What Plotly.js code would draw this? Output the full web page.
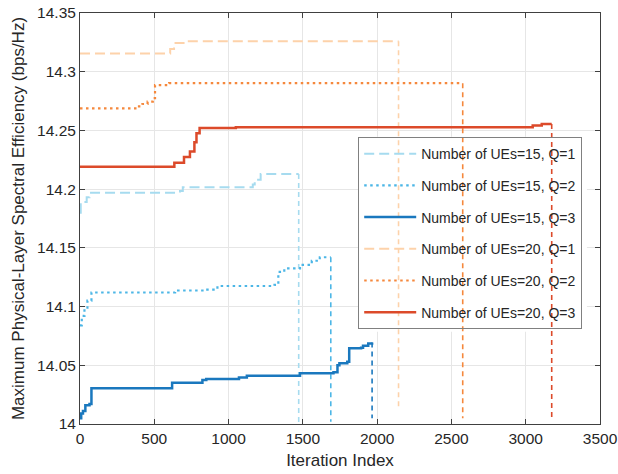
<!DOCTYPE html>
<html>
<head>
<meta charset="utf-8">
<script src="https://cdn.plot.ly/plotly-3.0.1.min.js"></script>
<style>html,body{margin:0;padding:0;background:#fff;}#chart{width:618px;height:474px;}</style>
</head>
<body>
<div id="chart"></div>
<script>
// Series names
const seriesNames = [
  "Number of UEs=15, Q=1",
  "Number of UEs=15, Q=2",
  "Number of UEs=15, Q=3",
  "Number of UEs=20, Q=1",
  "Number of UEs=20, Q=2",
  "Number of UEs=20, Q=3"
];

// UEs=15, Q=1
const ue15q1X = [0, 5, 45, 64, 673, 692, 1163, 1176, 1216, 1472];
const ue15q1Y = [14.180, 14.189, 14.193, 14.197, 14.1985, 14.2017, 14.204, 14.208, 14.213, 14.213];
// UEs=15, Q=2
const ue15q2X = [0, 12, 30, 50, 77, 640, 660, 845, 925, 1309, 1335, 1375, 1481, 1560, 1614, 1688];
const ue15q2Y = [14.084, 14.092, 14.099, 14.105, 14.112, 14.1125, 14.1137, 14.1145, 14.1175, 14.1185, 14.1295, 14.1325, 14.1355, 14.139, 14.142, 14.142];
// UEs=15, Q=3
const ue15q3X = [0, 8, 20, 36, 64, 77, 620, 630, 824, 850, 1070, 1123, 1481, 1706, 1733, 1746, 1799, 1812, 1892, 1905, 1940, 1966];
const ue15q3Y = [14.005, 14.009, 14.011, 14.016, 14.017, 14.0304, 14.0352, 14.0352, 14.0375, 14.0383, 14.0395, 14.041, 14.0432, 14.044, 14.050, 14.0517, 14.0531, 14.0645, 14.065, 14.0667, 14.0685, 14.0695];
// UEs=20, Q=1
const ue20q1X = [0, 607, 633, 713, 2144];
const ue20q1Y = [14.3155, 14.3193, 14.3244, 14.3259, 14.3259];
// UEs=20, Q=2
const ue20q2X = [0, 385, 420, 455, 490, 505, 600, 2576];
const ue20q2Y = [14.2687, 14.2705, 14.2725, 14.2745, 14.2775, 14.2885, 14.2902, 14.2902];
// UEs=20, Q=3
const ue20q3X = [0, 635, 700, 740, 770, 784, 805, 1049, 3047, 3108, 3175];
const ue20q3Y = [14.219, 14.2225, 14.2273, 14.232, 14.240, 14.2477, 14.252, 14.2528, 14.2541, 14.2555, 14.2555];

// Where each final dashed drop line ends
const dropFloor = [14.0, 14.002, 14.005, 14.013, 14.005, 14.006];

// Axis ticks
const xTickVals = [0, 500, 1000, 1500, 2000, 2500, 3000, 3500];
const xTickText = ["0", "500", "1000", "1500", "2000", "2500", "3000", "3500"];
const yTickVals = [14, 14.05, 14.1, 14.15, 14.2, 14.25, 14.3, 14.35];
const yTickText = ["14", "14.05", "14.1", "14.15", "14.2", "14.25", "14.3", "14.35"];

const xs = [ue15q1X, ue15q2X, ue15q3X, ue20q1X, ue20q2X, ue20q3X];
const ys = [ue15q1Y, ue15q2Y, ue15q3Y, ue20q1Y, ue20q2Y, ue20q3Y];
const colors = ["#a6dbef", "#4cb6e6", "#1a78be", "#fdd2aa", "#f5883c", "#dc4a2a"];
const dashes = ["10px,5px", "2.5px,3.5px", "solid", "10px,5px", "2.5px,3.5px", "solid"];
const widths = [2, 2.2, 2.5, 2, 2.2, 2.5];

const traces = [];
for (let i = 0; i < 6; i++) {
  const n = xs[i].length;
  traces.push({
    x: [xs[i][n-1], xs[i][n-1]],
    y: [ys[i][n-1], dropFloor[i]],
    mode: "lines", showlegend: false, hoverinfo: "skip",
    line: {color: colors[i], width: 1.6, dash: "5px,4px"}
  });
}
for (let i = 0; i < 6; i++) {
  traces.push({
    x: xs[i], y: ys[i], name: seriesNames[i], legendgroup: "g" + i,
    mode: "lines", line: {color: colors[i], width: widths[i], dash: dashes[i], shape: "hv"}
  });
}

const axisCommon = {
  showline: true, mirror: "ticks", linecolor: "#404040", linewidth: 1,
  ticks: "inside", ticklen: 5, tickcolor: "#404040",
  showgrid: true, gridcolor: "#e6e6e6", gridwidth: 1, zeroline: false,
  tickfont: {family: "Liberation Sans, Arial, sans-serif", size: 15.5, color: "#262626"}
};

const layout = {
  width: 618, height: 474,
  margin: {l: 80, r: 18, t: 13, b: 50},
  paper_bgcolor: "#ffffff", plot_bgcolor: "#ffffff",
  font: {family: "Liberation Sans, Arial, sans-serif", color: "#262626"},
  xaxis: Object.assign({}, axisCommon, {
    range: [0, 3500], tickmode: "array", tickvals: xTickVals, ticktext: xTickText,
    title: {text: "Iteration Index", font: {size: 17, color: "#262626"}, standoff: 8}
  }),
  yaxis: Object.assign({}, axisCommon, {
    range: [14, 14.35], tickmode: "array", tickvals: yTickVals, ticktext: yTickText,
    title: {text: "Maximum Physical-Layer Spectral Efficiency (bps/Hz)", font: {size: 17, color: "#262626"}, standoff: 8}
  }),
  legend: {
    x: 0.535, y: 0.698, xanchor: "left", yanchor: "top",
    bgcolor: "rgba(0,0,0,0)", bordercolor: "#808080", borderwidth: 1,
    font: {size: 14, color: "#262626"}, tracegroupgap: 10.5, itemwidth: 52,
    entrywidth: 215, entrywidthmode: "pixels"
  },
  shapes: [{
    type: "rect", xref: "x", yref: "y", x0: 1872, x1: 3412, y0: 14.0785, y1: 14.2446,
    fillcolor: "#ffffff", line: {width: 0}, layer: "between"
  }],
  showlegend: true
};

Plotly.newPlot("chart", traces, layout, {displayModeBar: false, staticPlot: true});
</script>
</body>
</html>
